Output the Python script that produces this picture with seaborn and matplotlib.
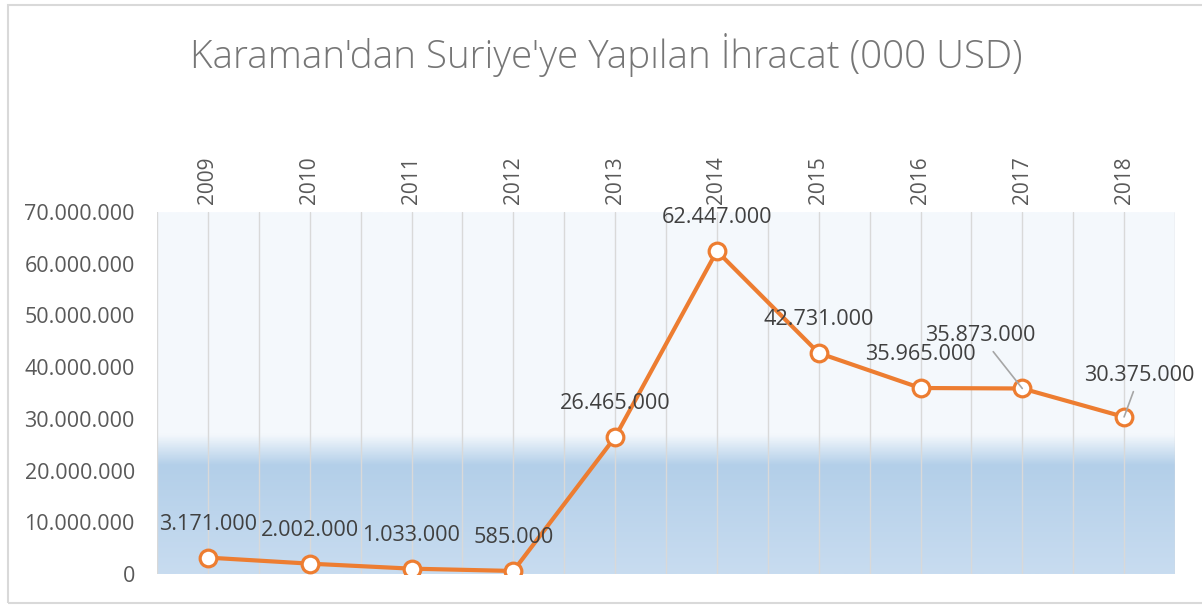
import matplotlib.pyplot as plt
import seaborn as sns
import numpy as np
import pandas as pd
from matplotlib.colors import LinearSegmentedColormap
from matplotlib.patches import Rectangle
from matplotlib.ticker import FuncFormatter, MultipleLocator

years = [2009, 2010, 2011, 2012, 2013, 2014, 2015, 2016, 2017, 2018]
exports = [3171000, 2002000, 1033000, 585000, 26465000,
           62447000, 42731000, 35965000, 35873000, 30375000]
title = "Karaman'dan Suriye'ye Yapılan İhracat (000 USD)"

df = pd.DataFrame({'Yıl': years, 'İhracat': exports})


def tr_fmt(v, pos=None):
    return f"{int(round(v)):,}".replace(",", ".")


sns.set_style('white')
plt.rcParams['font.family'] = ['Open Sans', 'DejaVu Sans']

fig = plt.figure(figsize=(12.02, 6.06), dpi=100)
ax = fig.add_axes([157 / 1202, 32 / 606, 1018 / 1202, 362 / 606])

# arka plan (gradyan)
cmap = LinearSegmentedColormap.from_list(
    'bg', [(0.0, '#c8dcf0'), (0.30, '#b3cfe9'), (0.385, '#f4f8fc'), (1.0, '#f5f9fd')])
grad = np.linspace(0, 1, 700).reshape(-1, 1)
ax.imshow(grad, extent=[2008.5, 2018.5, 0, 70e6], origin='lower',
          aspect='auto', cmap=cmap, vmin=0, vmax=1, zorder=0)

sns.lineplot(data=df, x='Yıl', y='İhracat', ax=ax, color='#ED7D31', lw=3,
             marker='o', markersize=12, markerfacecolor='white',
             markeredgecolor='#ED7D31', markeredgewidth=2.3, zorder=3)

ax.set_xlim(2008.5, 2018.5)
ax.set_ylim(0, 70e6)
ax.set_xticks(years)
ax.set_xticklabels([str(y) for y in years])
ax.xaxis.set_minor_locator(MultipleLocator(0.5))
ax.xaxis.tick_top()
ax.tick_params(axis='x', which='both', length=0, pad=6, labelrotation=90,
               labelsize=15, labelcolor='#595959')
ax.yaxis.set_major_locator(MultipleLocator(10e6))
ax.yaxis.set_major_formatter(FuncFormatter(tr_fmt))
ax.tick_params(axis='y', length=0, pad=16, labelsize=15.5, labelcolor='#595959')
ax.grid(axis='x', which='both', color='#d9d9d9', lw=1)
ax.grid(axis='y', visible=False)
ax.set_xlabel('')
ax.set_ylabel('')
for s in ax.spines.values():
    s.set_visible(False)

# veri etiketleri
special = {2017: (-30, 38), 2018: (11, 30)}
for y, v in zip(years, exports):
    if y in special:
        ax.annotate(tr_fmt(v), (y, v), xytext=special[y], textcoords='offset points',
                    ha='center', va='center', fontsize=15.6, color='#404040', zorder=5,
                    arrowprops=dict(arrowstyle='-', color='#a6a6a6', lw=1.2,
                                    shrinkA=2, shrinkB=0))
    else:
        ax.annotate(tr_fmt(v), (y, v), xytext=(0, 24), textcoords='offset points',
                    ha='center', va='center', fontsize=15.6, color='#404040', zorder=5)

fig.text(0.504, 1 - 55 / 606, title, ha='center', va='center',
         fontsize=27.8, color='#767676', fontweight='light')
fig.patches.append(Rectangle((8 / 1202, 3 / 606), 1.0, 1 - 8 / 606,
                             transform=fig.transFigure, fill=False,
                             ec='#d9d9d9', lw=1.5))

fig.savefig('out.png', dpi=100)
